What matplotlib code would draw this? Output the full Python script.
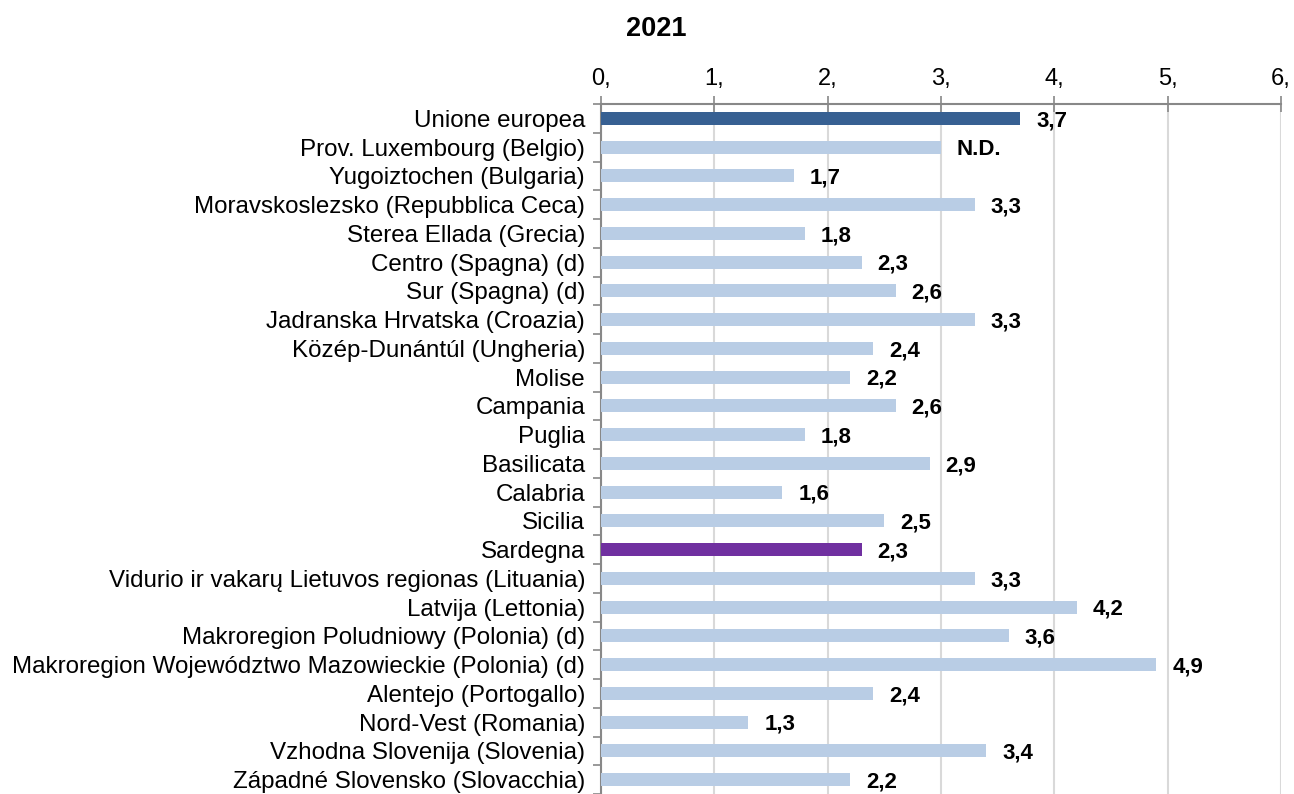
import numpy as np
import matplotlib.pyplot as plt

plt.rcParams['font.family'] = ['Liberation Sans', 'DejaVu Sans']

regioni = [
    "Unione europea",
    "Prov. Luxembourg (Belgio)",
    "Yugoiztochen (Bulgaria)",
    "Moravskoslezsko (Repubblica Ceca)",
    "Sterea Ellada (Grecia)",
    "Centro (Spagna) (d)",
    "Sur (Spagna) (d)",
    "Jadranska Hrvatska (Croazia)",
    "Közép-Dunántúl (Ungheria)",
    "Molise",
    "Campania",
    "Puglia",
    "Basilicata",
    "Calabria",
    "Sicilia",
    "Sardegna",
    "Vidurio ir vakarų Lietuvos regionas (Lituania)",
    "Latvija (Lettonia)",
    "Makroregion Poludniowy (Polonia) (d)",
    "Makroregion Województwo Mazowieckie (Polonia) (d)",
    "Alentejo (Portogallo)",
    "Nord-Vest (Romania)",
    "Vzhodna Slovenija (Slovenia)",
    "Západné Slovensko (Slovacchia)",
]
valori = [3.7, 3.0, 1.7, 3.3, 1.8, 2.3, 2.6, 3.3, 2.4, 2.2, 2.6, 1.8,
          2.9, 1.6, 2.5, 2.3, 3.3, 4.2, 3.6, 4.9, 2.4, 1.3, 3.4, 2.2]
etichette = ["3,7", "N.D.", "1,7", "3,3", "1,8", "2,3", "2,6", "3,3", "2,4",
             "2,2", "2,6", "1,8", "2,9", "1,6", "2,5", "2,3", "3,3", "4,2",
             "3,6", "4,9", "2,4", "1,3", "3,4", "2,2"]
tick_x = [0, 1, 2, 3, 4, 5, 6]
tick_x_lab = ["0,", "1,", "2,", "3,", "4,", "5,", "6,"]

colori = ["#B9CDE5"] * len(regioni)
colori[0] = "#376092"
colori[regioni.index("Sardegna")] = "#7030A0"

fig = plt.figure(figsize=(12.94, 7.94), dpi=100)
ax = fig.add_axes([601 / 1294, 0.0, 680 / 1294, (794 - 104) / 794])

y = np.arange(len(regioni))
ax.barh(y, valori, height=0.46, color=colori, zorder=3)

for yi, v, t in zip(y, valori, etichette):
    ax.text(v + 0.14, yi + 0.08, t, va='center', ha='left',
            fontsize=16, fontweight='bold', zorder=4)

ax.set_xlim(0, 6)
ax.set_ylim(len(regioni) - 0.5, -0.5)

ax.xaxis.tick_top()
ax.set_xticks(tick_x)
ax.set_xticklabels(tick_x_lab, fontsize=17)
ax.tick_params(axis='x', direction='inout', length=12, color='#888888',
               width=1.2, pad=4)
ax.grid(axis='x', color='#D9D9D9', linewidth=1.5, zorder=0)

ax.set_yticks(y)
ax.set_yticklabels(regioni, fontsize=17.4)
ax.set_yticks(np.arange(-0.5, len(regioni), 1.0), minor=True)
ax.tick_params(axis='y', which='major', length=0, pad=11.5)
ax.tick_params(axis='y', which='minor', length=6, color='#888888',
               width=1.2, direction='out')

for s in ['right', 'bottom']:
    ax.spines[s].set_visible(False)
for s in ['top', 'left']:
    ax.spines[s].set_color('#888888')
    ax.spines[s].set_linewidth(1.5)

fig.text(656 / 1294, 1 - 29 / 794, "2021", ha='center', va='center',
         fontsize=19.5, fontweight='bold')

fig.savefig("out.png", dpi=100)
